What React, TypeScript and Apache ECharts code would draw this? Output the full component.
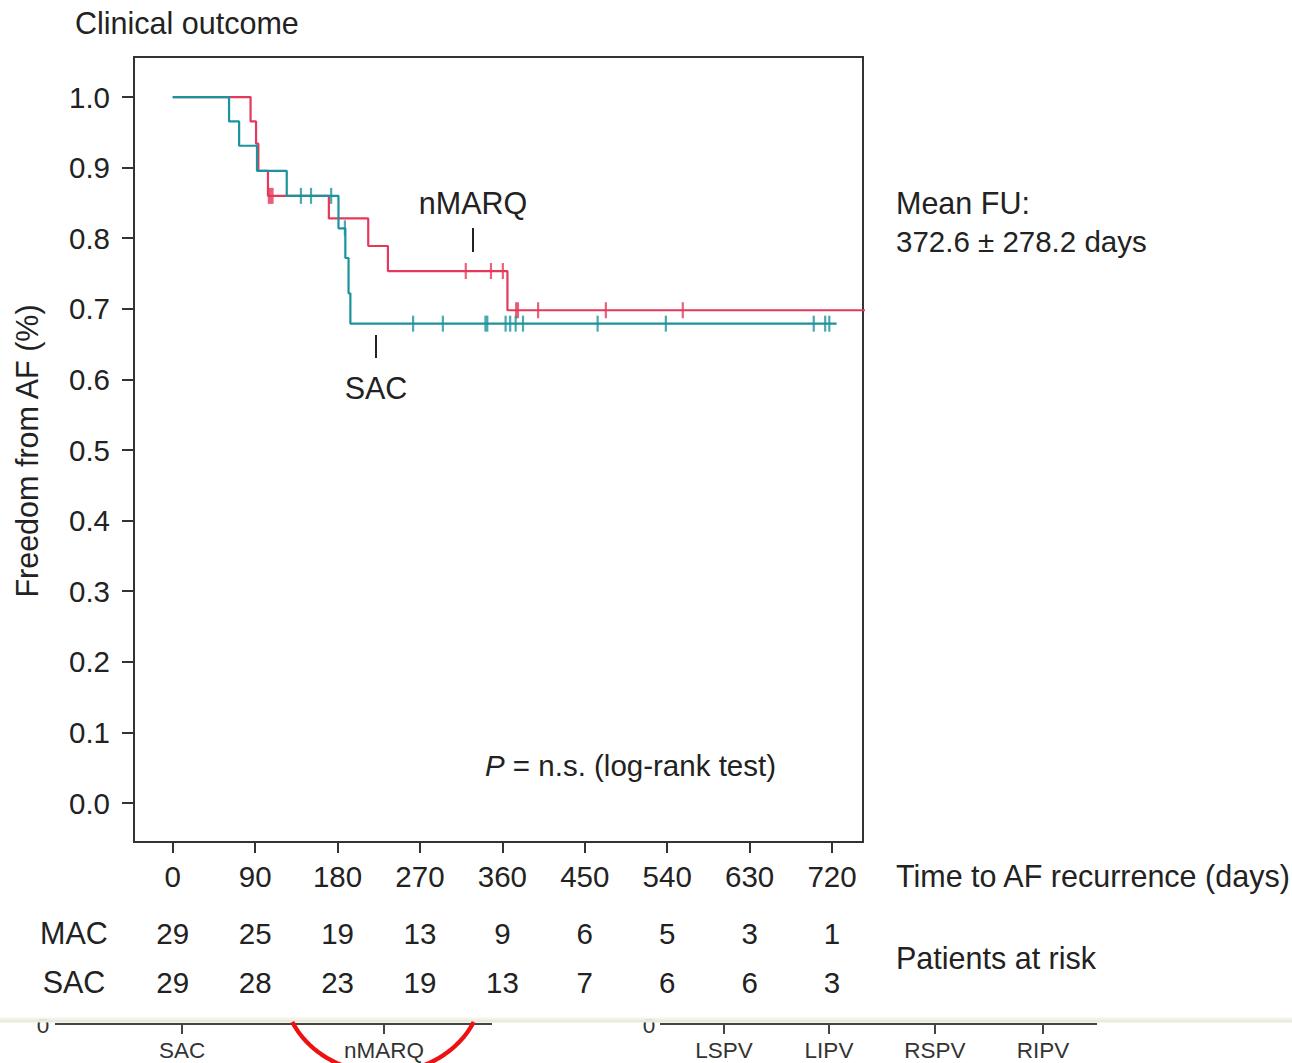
import React, { useEffect, useRef } from "react";
import * as echarts from "echarts";

// ---------- data ----------
const dayTicks = [0, 90, 180, 270, 360, 450, 540, 630, 720];
const survTicks = [0, 0.1, 0.2, 0.3, 0.4, 0.5, 0.6, 0.7, 0.8, 0.9, 1.0];
const macAtRisk = [29, 25, 19, 13, 9, 6, 5, 3, 1];
const sacAtRisk = [29, 28, 23, 19, 13, 7, 6, 6, 3];

// nMARQ (red) Kaplan-Meier steps
const nmarqTime = [0, 85, 91, 93.5, 104, 170.5, 213.5, 235, 365.5, 756];
const nmarqSurv = [1.0, 0.9655, 0.934, 0.8955, 0.86, 0.828, 0.789, 0.7535, 0.698, 0.698];
const nmarqCensor = [105, 107, 109, 320, 347.5, 360.5, 375, 377, 399, 473, 557];

// SAC (teal) Kaplan-Meier steps
const sacTime = [0, 61.5, 72.5, 92, 124.5, 181, 188.5, 192, 194, 725];
const sacSurv = [1.0, 0.9655, 0.931, 0.8955, 0.86, 0.814, 0.772, 0.722, 0.679, 0.679];
const sacCensor = [140, 151, 173, 188, 262.5, 295, 341.5, 343.5, 363.5, 368.5, 374.5, 382.5, 464, 538.5, 700, 712.5, 717];

// cropped panel below
const bottomLeftCats = ["SAC", "nMARQ"];
const bottomRightCats = ["LSPV", "LIPV", "RSPV", "RIPV"];

// ---------- styling / layout ----------
const RED = "#e5395b";
const TEAL = "#1a939c";
const INK = "#222222";
const FONT = "'Liberation Sans', Arial, Helvetica, sans-serif";
const FS = 29.5;
const FSW = 30.5;

const bottomLeftX = [182, 384];
const bottomRightX = [724, 829, 935, 1043];

function survAt(times: number[], surv: number[], t: number) {
  let s = surv[0];
  for (let i = 0; i < times.length; i++) if (times[i] <= t) s = surv[i];
  return s;
}

function ellipsePoints() {
  const cx = 383, cy = 985, a = 100, b = 88;
  const s0 = Math.asin((1022 - cy) / b);
  const pts: number[][] = [];
  const n = 80;
  for (let i = 0; i <= n; i++) {
    const th = s0 + ((Math.PI - 2 * s0) * i) / n;
    pts.push([cx + a * Math.cos(th), cy + b * Math.sin(th)]);
  }
  return pts;
}

function txt(x: number, y: number, text: string, extra: any = {}, styleExtra: any = {}) {
  return {
    type: "text",
    x,
    y,
    ...extra,
    style: {
      text,
      fill: INK,
      fontFamily: FONT,
      fontSize: FSW,
      align: "left",
      verticalAlign: "middle",
      ...styleExtra,
    },
  };
}

export default function App() {
  const ref = useRef<HTMLDivElement>(null);

  useEffect(() => {
    if (!ref.current) return;
    const chart = echarts.init(ref.current, undefined, { renderer: "svg" });

    const labelStyle = { fontFamily: FONT, fontSize: FS, color: INK };

    const graphic: any[] = [
      txt(75, 23, "Clinical outcome"),
      txt(27, 451, "Freedom from AF (%)", { rotation: Math.PI / 2 }, { align: "center" }),
      txt(473, 203, "nMARQ", {}, { align: "center" }),
      { type: "line", shape: { x1: 473, y1: 228, x2: 473, y2: 252 }, style: { stroke: INK, lineWidth: 2 } },
      txt(376, 388, "SAC", {}, { align: "center" }),
      { type: "line", shape: { x1: 376, y1: 335, x2: 376, y2: 358 }, style: { stroke: INK, lineWidth: 2 } },
      txt(485, 765, "{i|P} = n.s. (log-rank test)", {}, {
        fontSize: FS,
        rich: { i: { fontStyle: "italic", fontSize: FS, fontFamily: FONT, fill: INK } },
      }),
      txt(896, 203, "Mean FU:"),
      txt(896, 241, "372.6 ± 278.2 days", {}, { fontSize: FS }),
      txt(896, 876, "Time to AF recurrence (days)"),
      txt(74, 933, "MAC", {}, { align: "center" }),
      txt(74, 982, "SAC", {}, { align: "center" }),
      txt(896, 958, "Patients at risk"),
      // cropped lower panel
      txt(43, 1025, "0", { z: 10 }, { align: "center", fontSize: 22.5, fill: "#333" }),
      txt(649, 1025, "0", { z: 10 }, { align: "center", fontSize: 22.5, fill: "#333" }),
      { type: "rect", z: 11, shape: { x: 0, y: 1000, width: 1292, height: 19.5 }, style: { fill: "#ffffff" } },
      { type: "rect", z: 12, shape: { x: 0, y: 1017.5, width: 1292, height: 2 }, style: { fill: "#f4f4ee" } },
      { type: "rect", z: 12, shape: { x: 0, y: 1019.5, width: 1292, height: 3 }, style: { fill: "#e9e9dc" } },
      { type: "line", z: 10, shape: { x1: 55, y1: 1024, x2: 492, y2: 1024 }, style: { stroke: "#444", lineWidth: 2 } },
      { type: "line", z: 10, shape: { x1: 660, y1: 1024, x2: 1097, y2: 1024 }, style: { stroke: "#444", lineWidth: 2 } },
      ...bottomLeftCats.flatMap((c, i) => [
        { type: "line", z: 10, shape: { x1: bottomLeftX[i], y1: 1024, x2: bottomLeftX[i], y2: 1034 }, style: { stroke: "#444", lineWidth: 2 } },
        txt(bottomLeftX[i], 1050, c, { z: 10 }, { align: "center", fontSize: 22.5, fill: "#333" }),
      ]),
      ...bottomRightCats.flatMap((c, i) => [
        { type: "line", z: 10, shape: { x1: bottomRightX[i], y1: 1024, x2: bottomRightX[i], y2: 1034 }, style: { stroke: "#444", lineWidth: 2 } },
        txt(bottomRightX[i], 1050, c, { z: 10 }, { align: "center", fontSize: 22.5, fill: "#333" }),
      ]),
      {
        type: "polyline",
        z: 13,
        shape: { points: ellipsePoints() },
        style: { stroke: "#ee1111", lineWidth: 4.3, fill: "none" },
      },
    ];

    const riskAxis = (offset: number, arr: number[]) => ({
      type: "value",
      gridIndex: 0,
      min: -42.3,
      max: 753.8,
      position: "bottom",
      offset,
      axisLine: { show: false, onZero: false },
      axisTick: { show: false },
      splitLine: { show: false },
      axisLabel: {
        ...labelStyle,
        margin: 19,
        customValues: dayTicks,
        formatter: (v: number) => {
          const idx = dayTicks.indexOf(Math.round(v));
          return idx >= 0 ? String(arr[idx]) : "";
        },
      },
    });

    chart.setOption({
      animation: false,
      backgroundColor: "#ffffff",
      grid: {
        left: 134,
        top: 57,
        width: 729,
        height: 785,
        show: true,
        borderColor: "#333",
        borderWidth: 2,
        backgroundColor: "transparent",
      },
      xAxis: [
        {
          type: "value",
          min: -42.3,
          max: 753.8,
          position: "bottom",
          axisLine: { show: false, onZero: false },
          splitLine: { show: false },
          axisTick: { show: true, customValues: dayTicks, length: 11, lineStyle: { color: "#333", width: 2 } },
          axisLabel: { ...labelStyle, margin: 19, customValues: dayTicks, formatter: (v: number) => String(v) },
        },
        riskAxis(57, macAtRisk),
        riskAxis(106, sacAtRisk),
      ],
      yAxis: {
        type: "value",
        min: -0.0552,
        max: 1.0567,
        position: "left",
        axisLine: { show: false, onZero: false },
        splitLine: { show: false },
        axisTick: { show: true, customValues: survTicks, length: 12, lineStyle: { color: "#333", width: 2 } },
        axisLabel: { ...labelStyle, margin: 24, customValues: survTicks, formatter: (v: number) => v.toFixed(1) },
      },
      series: [
        {
          name: "nMARQ",
          type: "line",
          step: "end",
          showSymbol: false,
          data: nmarqTime.map((t, i) => [t, nmarqSurv[i]]),
          lineStyle: { color: RED, width: 2.2 },
          itemStyle: { color: RED },
          z: 2,
        },
        {
          name: "SAC",
          type: "line",
          step: "end",
          showSymbol: false,
          data: sacTime.map((t, i) => [t, sacSurv[i]]),
          lineStyle: { color: TEAL, width: 2.2 },
          itemStyle: { color: TEAL },
          z: 3,
        },
        {
          name: "nMARQ censored",
          type: "scatter",
          symbol: "rect",
          symbolSize: [2.2, 16],
          data: nmarqCensor.map((t) => [t, survAt(nmarqTime, nmarqSurv, t)]),
          itemStyle: { color: RED },
          z: 4,
        },
        {
          name: "SAC censored",
          type: "scatter",
          symbol: "rect",
          symbolSize: [2.2, 16],
          data: sacCensor.map((t) => [t, survAt(sacTime, sacSurv, t)]),
          itemStyle: { color: TEAL },
          z: 5,
        },
      ],
      graphic,
    });

    return () => chart.dispose();
  }, []);

  return (
    <div
      ref={ref}
      style={{ position: "fixed", left: 0, top: 0, width: 1292, height: 1063, background: "#fff" }}
    />
  );
}
